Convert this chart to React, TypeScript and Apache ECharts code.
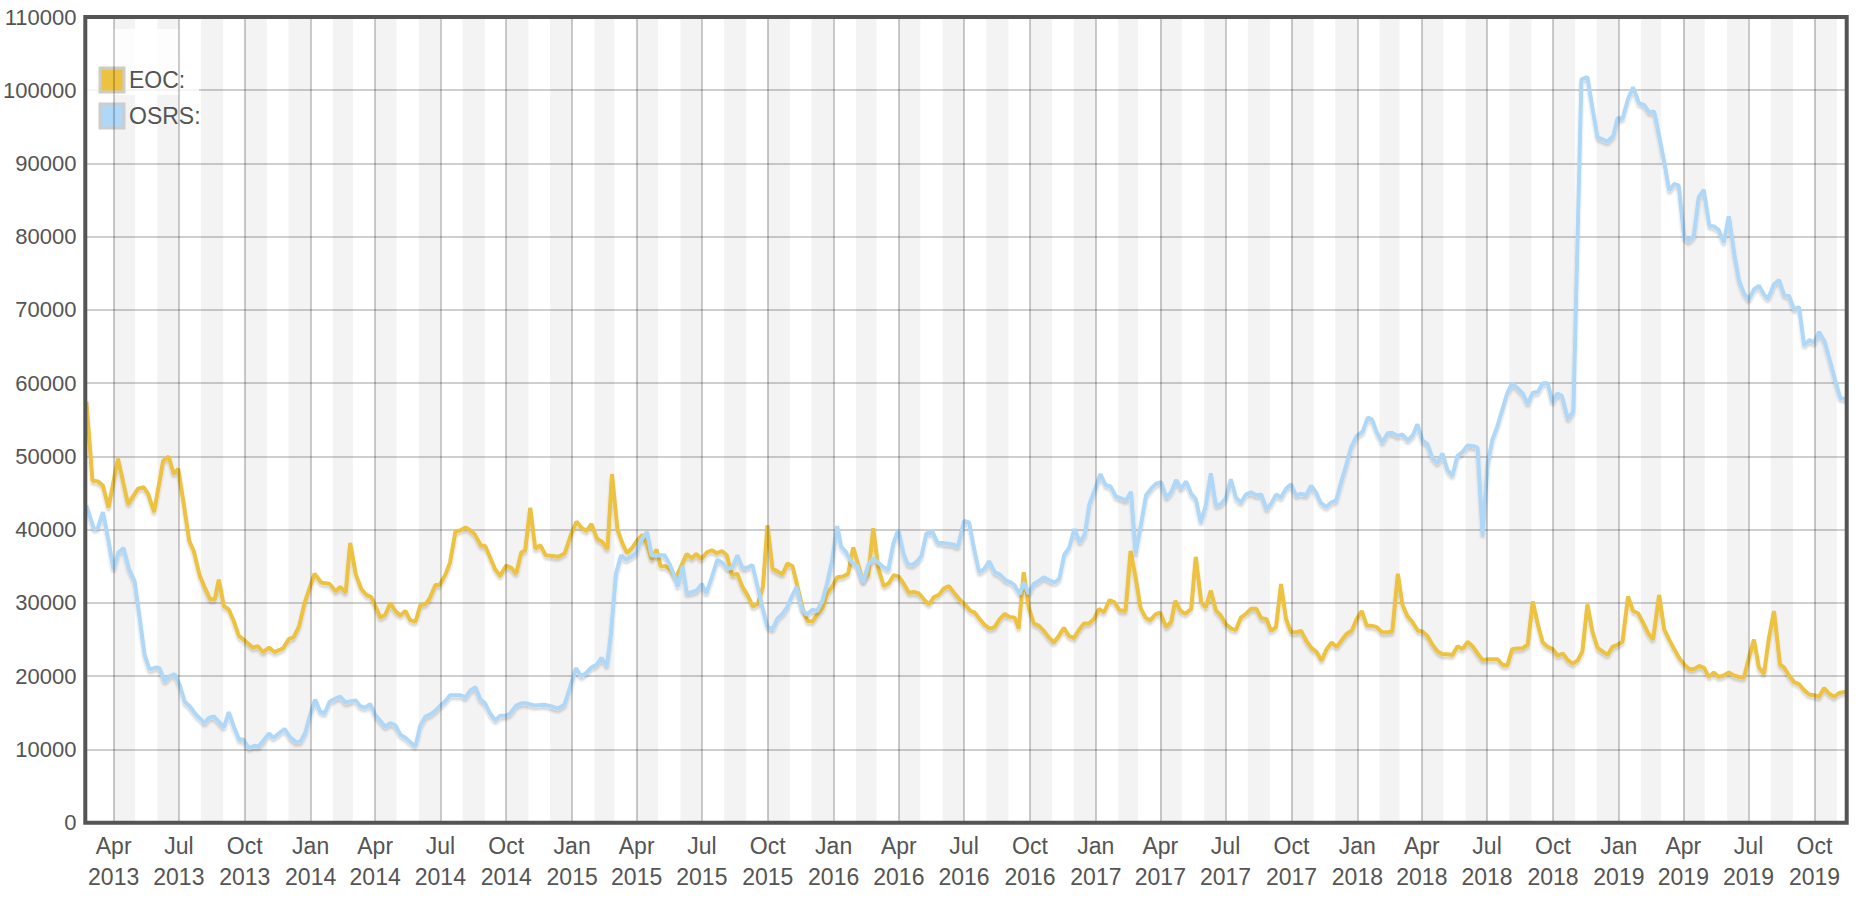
import { useEffect, useRef } from "react";
import * as echarts from "echarts";

// weekly samples, counted in weeks from the first week (22 Feb 2013)
const startDate = Date.UTC(2013, 1, 22);
const endDate = Date.UTC(2019, 10, 15);
const monthNames = ["Jan", "Feb", "Mar", "Apr", "May", "Jun", "Jul", "Aug", "Sep", "Oct", "Nov", "Dec"];

// [week, players]
const eocPoints: [number, number][] = [
  [0, 57500], [1.2, 46700], [2.3, 46600], [3.3, 46000], [4.4, 43000], [6.3, 49700], [8.3, 43500], [10.3, 45600],
  [11.4, 45800], [12.3, 44900], [13.5, 42400], [15.3, 49400], [16.4, 50000], [17.4, 47600], [18.3, 48300], [19.3, 44000],
  [20.5, 38500], [21.4, 37100], [22.6, 33700], [23.6, 32100], [24.7, 30500], [25.6, 30500], [26.4, 33200], [27.4, 29600],
  [28.4, 29100], [29.4, 27500], [30.4, 25500], [31.5, 24900], [33.2, 23900], [34.2, 24100], [35.2, 23300], [36.4, 23900],
  [37.5, 23300], [39.2, 23800], [40.4, 25100], [41.3, 25300], [42.4, 26800], [43.5, 30000], [45.5, 34000], [46.8, 32800],
  [48.5, 32600], [49.7, 31600], [50.6, 32200], [51.7, 31400], [52.6, 38200], [53.7, 33900], [54.8, 31900], [55.8, 31100],
  [56.8, 30800], [57.6, 29600], [58.6, 28000], [59.6, 28400], [60.6, 30000], [61.6, 28900], [62.6, 28300], [63.6, 28900],
  [64.5, 27700], [65.6, 27400], [66.6, 29700], [67.7, 29900], [68.5, 30700], [69.6, 32500], [70.4, 32400], [71.6, 33900],
  [72.5, 35500], [73.6, 39800], [74.5, 39900], [75.6, 40300], [76.4, 40000], [77.4, 39400], [78.7, 37800], [79.5, 37800],
  [80.5, 36200], [81.5, 34600], [82.5, 33700], [83.7, 35100], [84.7, 34800], [85.7, 34000], [86.7, 36900], [87.5, 37200],
  [88.5, 43000], [89.5, 37400], [90.5, 37900], [91.6, 36500], [93, 36400], [94.1, 36300], [95.4, 36800], [96.6, 39300],
  [97.7, 41100], [98.7, 40300], [99.7, 39800], [100.7, 40800], [101.8, 38800], [102.9, 38300], [103.9, 37300], [104.8, 47600],
  [105.9, 40000], [106.9, 38100], [107.8, 36800], [108.9, 37600], [109.9, 38600], [110.9, 39300], [111.9, 37700], [112.7, 35900],
  [113.7, 37300], [114.5, 35000], [115.5, 35000], [116.5, 34500], [117.5, 33400], [118.7, 35200], [119.7, 36700], [120.7, 36100],
  [121.6, 36700], [122.6, 36000], [123.7, 36900], [124.7, 37200], [125.7, 36800], [126.7, 37100], [127.7, 36500], [128.7, 33800],
  [129.8, 34000], [130.8, 32200], [131.8, 31100], [132.9, 29500], [133.9, 29900], [134.9, 32200], [135.8, 40600], [136.8, 34700],
  [137.8, 34300], [138.8, 33900], [139.8, 35400], [140.8, 35000], [141.8, 32200], [142.8, 29300], [143.8, 27500], [144.8, 27500],
  [145.7, 28400], [146.8, 29300], [147.7, 31300], [148.7, 32200], [149.7, 33500], [150.9, 33600], [151.9, 34000], [152.9, 37600],
  [153.9, 35200], [154.8, 33100], [155.9, 33800], [156.9, 40200], [157.9, 34700], [159, 32300], [160, 32700], [161, 33800],
  [162, 33600], [163, 32600], [164, 31400], [165, 31500], [166, 31300], [167, 30500], [168, 29800], [169, 30800],
  [170, 31100], [171, 32000], [172, 32300], [173, 31400], [174.2, 30400], [175.3, 29700], [176.3, 28900], [177.1, 28700],
  [178.1, 27800], [179.1, 27000], [180.1, 26500], [181.1, 26700], [182.1, 27800], [183.1, 28500], [184.1, 28100], [185.1, 28000],
  [185.9, 26500], [186.9, 34200], [187.9, 29400], [188.9, 27200], [189.9, 26900], [190.9, 26200], [191.9, 25300], [192.9, 24600],
  [193.9, 25500], [194.9, 26600], [195.9, 25500], [196.9, 25200], [197.9, 26300], [198.9, 27200], [199.9, 27200], [200.9, 27800],
  [201.9, 29200], [202.9, 28700], [204, 30400], [205, 30100], [206, 29000], [207.2, 28900], [208.2, 37100], [209.2, 33500],
  [210.2, 29300], [211.2, 28000], [212.1, 27600], [213.1, 28400], [214.1, 28700], [215.3, 26700], [216.3, 27400], [217.1, 30300],
  [218.1, 29000], [219.1, 28500], [220.3, 29200], [221.2, 36300], [222.3, 30100], [223.2, 29400], [224.2, 31700], [225.2, 29000],
  [226.2, 28300], [227.2, 27100], [228.3, 26500], [229.2, 26300], [230.2, 28000], [231.2, 28500], [232.2, 29200], [233.3, 29200],
  [234.3, 27900], [235.3, 27800], [236.2, 26200], [237.2, 26700], [238.2, 32600], [239.2, 27800], [240.2, 26000], [241.2, 26000],
  [242.2, 26200], [243.2, 24900], [244.2, 23900], [245.3, 23300], [246.3, 22100], [247.3, 23700], [248.3, 24600], [249.3, 24000],
  [250.3, 24900], [251.3, 25800], [252.3, 26200], [253.3, 27800], [254.3, 28900], [255.3, 26900], [256.3, 26900], [257.3, 26700],
  [258.3, 26000], [259.4, 26000], [260.4, 26100], [261.5, 34000], [262.4, 29800], [263.4, 28200], [264.4, 27400], [265.5, 26200],
  [266.4, 26100], [267.4, 25500], [268.4, 24300], [269.4, 23400], [270.4, 23000], [271.4, 23000], [272.4, 22900], [273.4, 24100],
  [274.4, 23700], [275.4, 24700], [276.4, 24100], [277.4, 23100], [278.4, 22200], [279.4, 22300], [280.4, 22300], [281.4, 22300],
  [282.3, 21600], [283.3, 21400], [284.3, 23700], [285.3, 23800], [286.3, 23800], [287.4, 24300], [288.4, 30200], [289.4, 27100],
  [290.4, 24600], [291.4, 24000], [292.4, 23700], [293.4, 22800], [294.4, 23100], [295.4, 22200], [296.4, 21700], [297.4, 22200],
  [298.3, 23400], [299.3, 29800], [300.3, 26100], [301.3, 23900], [302.3, 23400], [303.3, 22900], [304.3, 24000], [305.3, 24300],
  [306.3, 24700], [307.4, 30900], [308.4, 28900], [309.4, 28600], [310.4, 27300], [311.4, 25900], [312.4, 25000], [313.6, 31100],
  [314.6, 26400], [315.6, 25000], [316.6, 23700], [317.6, 22500], [318.6, 21600], [319.6, 21000], [320.6, 21000], [321.6, 21400],
  [322.6, 21100], [323.5, 19900], [324.5, 20500], [325.5, 19900], [326.5, 20100], [327.5, 20500], [328.5, 20100], [329.5, 19900],
  [330.5, 19800], [331.5, 22500], [332.5, 25000], [333.5, 21200], [334.5, 20300], [335.5, 25200], [336.5, 28900], [337.7, 21600],
  [338.5, 21200], [339.5, 20100], [340.5, 19200], [341.5, 18900], [342.5, 18100], [343.5, 17500], [344.5, 17400], [345.5, 17200],
  [346.5, 18400], [347.5, 17600], [348.5, 17200], [349.5, 17700], [351, 17900],
];

const osrsPoints: [number, number][] = [
  [0, 43300], [1.5, 40100], [2.3, 40300], [3.3, 42400], [4.3, 38900], [5.4, 34600], [6.4, 36900], [7.4, 37500],
  [8.5, 34600], [9.6, 33000], [10.6, 28000], [11.6, 22900], [12.6, 20900], [13.9, 21200], [14.6, 21100], [15.6, 19300],
  [16.6, 20000], [17.6, 20300], [18.6, 18800], [19.6, 16500], [20.6, 15900], [21.9, 14700], [23.6, 13600], [24.4, 14300],
  [25.4, 14500], [26.4, 13800], [27.4, 13000], [28.4, 15100], [29.4, 13100], [30.5, 11300], [31.2, 11400], [32.4, 10200],
  [33.5, 10500], [34.3, 10400], [35.4, 11300], [36.4, 12200], [37.3, 11600], [38.4, 12200], [39.5, 12800], [40.6, 11700],
  [41.8, 11000], [42.7, 11100], [43.7, 12400], [44.6, 14700], [45.6, 16800], [46.6, 15200], [47.5, 14900], [48.5, 16500],
  [49.5, 16900], [50.6, 17200], [51.7, 16400], [52.7, 16600], [53.7, 16700], [54.6, 15900], [55.6, 15700], [56.6, 16200],
  [57.6, 14700], [58.6, 13900], [59.6, 13100], [60.6, 13600], [61.6, 13300], [62.6, 12000], [63.6, 11600], [64.6, 11000],
  [65.6, 10400], [66.6, 13300], [67.6, 14500], [68.6, 14800], [69.6, 15300], [70.6, 16000], [71.6, 16600], [72.5, 17400],
  [73.6, 17400], [74.6, 17400], [75.6, 17100], [76.6, 18100], [77.6, 18500], [78.5, 16900], [79.5, 16300], [80.5, 14900],
  [81.5, 14000], [82.5, 14600], [83.5, 14600], [84.5, 14900], [85.7, 16000], [86.7, 16300], [87.6, 16300], [89.3, 16000],
  [91.3, 16100], [92.6, 15900], [94, 15600], [95.3, 16100], [96.5, 18600], [97.6, 21100], [98.6, 20000], [99.6, 20400],
  [100.7, 21200], [101.8, 21600], [102.7, 22500], [103.8, 21400], [104.6, 25900], [105.6, 34000], [106.6, 36500], [107.6, 35900],
  [108.6, 36300], [109.6, 36800], [110.6, 38600], [111.8, 39700], [112.7, 36500], [114, 36500], [115.3, 36500], [116.3, 35300],
  [117.2, 33800], [117.9, 32200], [118.9, 35000], [119.7, 31300], [120.8, 31500], [121.7, 31700], [122.7, 32600], [123.6, 31300],
  [124.7, 33500], [125.8, 35900], [126.8, 35500], [127.8, 34700], [128.8, 34800], [129.8, 36500], [130.8, 34800], [131.8, 34800],
  [132.8, 35200], [133.9, 32000], [134.9, 29100], [135.8, 26800], [136.8, 26400], [137.8, 27900], [138.9, 28600], [139.8, 29500],
  [140.8, 31100], [141.6, 32200], [142.6, 29300], [143.6, 28400], [144.8, 29100], [145.7, 28900], [146.8, 30400], [147.7, 32700],
  [148.7, 35800], [149.7, 40500], [150.5, 37700], [151.5, 36900], [152.6, 35600], [153.7, 35000], [154.9, 32800], [155.9, 35200],
  [156.9, 36100], [157.9, 35500], [158.9, 34900], [159.9, 34500], [160.9, 38100], [161.9, 40000], [162.9, 36800], [163.8, 35300],
  [164.8, 35200], [165.8, 35800], [166.5, 36400], [167.5, 39500], [168.7, 39700], [169.7, 38200], [170.7, 38200], [171.8, 38100],
  [172.8, 38000], [173.8, 37700], [175, 41200], [176, 41000], [177, 37400], [178, 34200], [179, 34600], [180, 35700],
  [181.1, 34200], [182.1, 33900], [183.3, 33100], [184.3, 32800], [185.1, 32400], [186.1, 31200], [186.9, 32800], [187.9, 31300],
  [188.9, 32600], [189.9, 33000], [190.9, 33500], [192, 33100], [193.1, 32800], [194, 33300], [195, 36600], [196, 37600],
  [197, 40100], [198.1, 38300], [199.1, 39400], [200, 43500], [201.2, 45700], [202.2, 47600], [203.2, 46100], [204.2, 45900],
  [205.3, 44500], [206.3, 44300], [207.3, 44000], [208.3, 45200], [209.2, 36700], [210.3, 40800], [211.3, 44700], [212.3, 45600],
  [213.3, 46300], [214.3, 46500], [215.3, 44400], [216.3, 45100], [217.3, 46800], [218.3, 45600], [219.3, 46600], [220.3, 44900],
  [221.2, 44200], [222.2, 41000], [223.2, 43300], [224.2, 47700], [225.2, 43300], [226.2, 43500], [227.2, 44300], [228.2, 46900],
  [229.2, 44400], [230.2, 43700], [231.2, 44800], [232.2, 45100], [233.3, 44700], [234.3, 44800], [235.3, 42800], [236.3, 43600],
  [237.2, 44800], [238.2, 44400], [239.2, 45600], [240.2, 46200], [241.2, 44700], [242.2, 44900], [243.2, 44700], [244.2, 46000],
  [245.1, 45200], [246.1, 43700], [247.2, 43100], [248.2, 43700], [249.2, 44000], [250.2, 46500], [251.2, 48800], [252.2, 51300],
  [253.3, 52800], [254.5, 53400], [255.5, 55300], [256.3, 55100], [257.3, 53300], [258.4, 51900], [259.5, 53200], [260.4, 53200],
  [261.5, 52800], [262.4, 53000], [263.5, 52200], [264.5, 52900], [265.4, 54400], [266.4, 52200], [267.4, 51700], [268.4, 49800],
  [269.4, 49100], [270.4, 50400], [271.4, 48100], [272.4, 47400], [273.4, 50100], [274.4, 50600], [275.4, 51500], [276.6, 51400],
  [277.4, 51200], [278.4, 39300], [279.4, 49000], [280.4, 52400], [281.3, 54000], [282.3, 56300], [283.3, 58600], [284.3, 60000],
  [285.4, 59300], [286.4, 58600], [287.4, 57200], [288.4, 58700], [289.4, 58800], [290.4, 60000], [291.4, 60000], [292.3, 57400],
  [293.3, 58600], [294.2, 58300], [295.4, 55100], [296.5, 56200], [298.1, 101500], [299.3, 101800], [300.1, 98400], [301.3, 93600],
  [302.3, 93300], [303.3, 93000], [304.5, 93800], [305.3, 96200], [306.3, 96100], [307.4, 98800], [308.4, 100400], [309.6, 98200],
  [310.6, 98000], [311.6, 97000], [312.6, 97100], [313.8, 93100], [314.8, 89500], [315.6, 86300], [316.6, 87200], [317.5, 87000],
  [318.6, 79900], [319.5, 79400], [320.5, 80100], [321.5, 85400], [322.5, 86400], [323.6, 81500], [324.6, 81400], [325.5, 80900],
  [326.5, 79200], [327.5, 82800], [328.6, 77600], [329.5, 74100], [330.5, 72300], [331.5, 71400], [332.5, 72800], [333.5, 73300],
  [334.5, 72100], [335.3, 71500], [336.5, 73500], [337.5, 74100], [338.5, 72100], [339.5, 71900], [340.5, 70100], [341.5, 70400],
  [342.5, 65200], [343.6, 65900], [344.5, 65500], [345.5, 67000], [346.6, 65700], [347.6, 63200], [348.7, 60400], [349.7, 58000],
  [351, 57800],
];

const toTime = (week: number) => startDate + Math.round(week * 7 * 24) * 3600000;

// quarter ticks Apr 2013 .. Oct 2019, shaded bands every other month
const quarterTicks: number[] = [];
for (let m = 3; m <= 6 * 12 + 9; m += 3) quarterTicks.push(Date.UTC(2013, m, 1));
const shadedMonths: [number, number][] = [];
for (let m = 3; m <= 6 * 12 + 9; m += 2) shadedMonths.push([Date.UTC(2013, m, 1), Date.UTC(2013, m + 1, 1)]);

const FONT = "'Liberation Sans', Arial, sans-serif";
const TEXT = "#545454";
const GRID = { left: 85.3, top: 17, width: 1761.4, height: 805.7 };

function App() {
  const chartRef = useRef<HTMLDivElement>(null);

  useEffect(() => {
    const chart = echarts.init(chartRef.current, null, { renderer: "svg" });
    chart.setOption({
      animation: false,
      textStyle: { fontFamily: FONT },
      grid: { ...GRID, show: false },
      legend: {
        data: ["EOC", "OSRS"],
        orient: "vertical",
        left: 98.5,
        top: 66.5,
        padding: 0,
        icon: "rect",
        itemWidth: 24,
        itemHeight: 24,
        itemGap: 9,
        itemStyle: { borderColor: "#cccccc", borderWidth: 3 },
        formatter: "{name}:",
        textStyle: { fontSize: 23, color: TEXT, fontFamily: FONT },
        selectedMode: false,
      },
      graphic: [
        {
          type: "rect",
          left: 87,
          top: 29,
          shape: { width: 112, height: 66 },
          style: { fill: "rgba(255,255,255,0.8)" },
          z: 2,
          silent: true,
        },
        {
          // plot frame
          type: "rect",
          x: GRID.left,
          y: GRID.top,
          shape: { width: GRID.width, height: GRID.height },
          style: { fill: "none", stroke: "#545454", lineWidth: 4 },
          z: 100,
          silent: true,
        },
      ],
      xAxis: {
        type: "value",
        min: startDate,
        max: endDate,
        axisLine: { show: false },
        axisTick: { show: false },
        splitLine: { show: false },
        axisLabel: {
          customValues: quarterTicks,
          fontSize: 23,
          lineHeight: 31,
          margin: 8,
          color: TEXT,
          fontFamily: FONT,
          hideOverlap: false,
          formatter: (v: number) => {
            const d = new Date(v);
            return monthNames[d.getUTCMonth()] + "\n" + d.getUTCFullYear();
          },
        },
      },
      yAxis: {
        type: "value",
        min: 0,
        max: 110000,
        interval: 10000,
        axisLine: { show: false },
        axisTick: { show: false },
        axisLabel: { fontSize: 22, color: TEXT, margin: 10, fontFamily: FONT, formatter: (v: number) => String(v) },
        splitLine: { lineStyle: { color: "#cfcfcf", width: 2 } },
      },
      series: [
        {
          name: "bands",
          type: "line",
          data: [],
          z: 1,
          silent: true,
          markArea: {
            silent: true,
            itemStyle: { color: "rgba(0,0,0,0.047)" },
            data: shadedMonths.map(([a, b]) => [{ xAxis: a }, { xAxis: b }]),
          },
          markLine: {
            silent: true,
            symbol: "none",
            label: { show: false },
            lineStyle: { color: "rgba(0,0,0,0.2)", width: 2, type: "solid" },
            data: quarterTicks.map((t) => ({ xAxis: t })),
          },
        },
        {
          name: "EOC",
          type: "line",
          z: 3,
          showSymbol: false,
          symbol: "none",
          color: "#edc240",
          lineStyle: {
            color: "#edc240",
            width: 4,
            shadowColor: "rgba(0,0,0,0.16)",
            shadowBlur: 2,
            shadowOffsetY: 3,
          },
          data: eocPoints.map(([w, v]) => [toTime(w), v]),
        },
        {
          name: "OSRS",
          type: "line",
          z: 4,
          showSymbol: false,
          symbol: "none",
          color: "#afd8f8",
          lineStyle: {
            color: "#afd8f8",
            width: 4,
            shadowColor: "rgba(0,0,0,0.16)",
            shadowBlur: 2,
            shadowOffsetY: 3,
          },
          data: osrsPoints.map(([w, v]) => [toTime(w), v]),
        },
      ],
    });
    return () => {
      chart.dispose();
    };
  }, []);

  return (
    <div
      ref={chartRef}
      style={{ position: "fixed", left: 0, top: 0, width: 1871, height: 903, background: "#ffffff" }}
    />
  );
}

export default App;
